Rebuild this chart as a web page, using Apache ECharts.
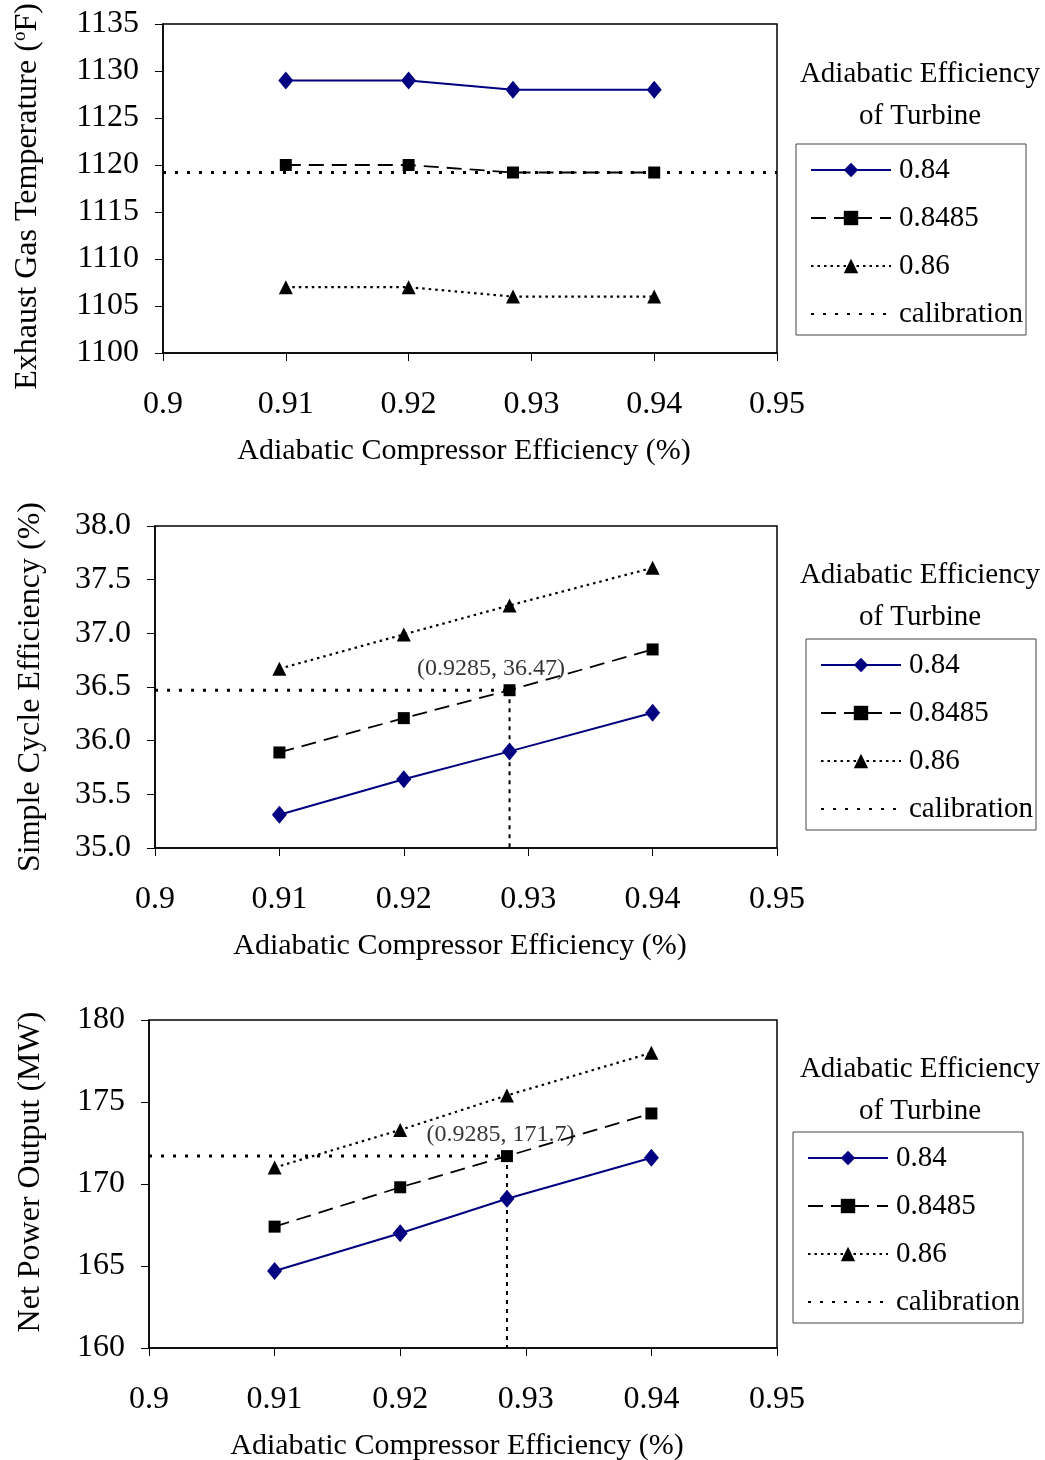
<!DOCTYPE html>
<html>
<head>
<meta charset="utf-8">
<script src="https://cdn.jsdelivr.net/npm/echarts@6/dist/echarts.min.js"></script>
<style>
  html, body { margin: 0; padding: 0; background: #fff; }
  #chart { width: 1045px; height: 1460px; }
</style>
</head>
<body>
<div id="chart"></div>
<script>
// compressor efficiency (x) shared by all three panels
const compEff = [0.91, 0.92, 0.9285, 0.94]

// panel 1: exhaust gas temperature (F)
const exhaust084 = [1129, 1129, 1128, 1128]
const exhaust08485 = [1120, 1120, 1119.2, 1119.2]
const exhaust086 = [1107, 1107, 1106, 1106]
const exhaustCalib = 1119.2

// panel 2: simple cycle efficiency (%)
const effic084 = [35.31, 35.64, 35.90, 36.26]
const effic08485 = [35.89, 36.21, 36.47, 36.85]
const effic086 = [36.67, 36.99, 37.26, 37.61]
const efficCalib = [0.9285, 36.47]

// panel 3: net power output (MW)
const power084 = [164.7, 167.0, 169.1, 171.6]
const power08485 = [167.4, 169.8, 171.7, 174.3]
const power086 = [171.0, 173.3, 175.4, 178.0]
const powerCalib = [0.9285, 171.7]

const turbineNames = ['0.84', '0.8485', '0.86']
const legendNames = ['0.84', '0.8485', '0.86', 'calibration']

const xRange = {min: 0.9, max: 0.95, interval: 0.01}
const yRanges = [
  {min: 1100, max: 1135, interval: 5},
  {min: 35, max: 38, interval: 0.5},
  {min: 160, max: 180, interval: 5}
]
const yNames = [
  'Exhaust Gas Temperature ({sup|o}F)',
  'Simple Cycle Efficiency (%)',
  'Net Power Output (MW)'
]
const xName = 'Adiabatic Compressor Efficiency (%)'
const legendTitle = 'Adiabatic Efficiency\nof Turbine'

const FONT = '"Liberation Serif", "Times New Roman", serif'

// layout of the three panels
const panels = [
  {grid: {left: 163, top: 24, width: 614, height: 329}, yGap: 118, yPad: [0, 16, 0, 0], yDigits: 0,
    legend: {left: 796, top: 144}, titleY: 53},
  {grid: {left: 155, top: 526, width: 622, height: 322}, yGap: 108, yPad: [0, 0, 0, 0], yDigits: 1,
    legend: {left: 806, top: 639}, titleY: 554},
  {grid: {left: 149, top: 1020, width: 628, height: 328}, yGap: 102, yPad: [0, 0, 0, 24], yDigits: 0,
    legend: {left: 793, top: 1132}, titleY: 1048}
]

const seriesStyles = [
  {symbol: 'diamond', symbolSize: [15, 18], color: '#000080', lineStyle: {color: '#000080', width: 2, type: 'solid'}},
  {symbol: 'rect', symbolSize: 12, color: '#000', lineStyle: {color: '#000', width: 1.8, type: [15, 8]}},
  {symbol: 'triangle', symbolSize: [14, 14], color: '#000', lineStyle: {color: '#000', width: 2.2, type: [2.5, 4]}}
]
const calibStyle = {color: '#000', width: 3, type: [3, 9]}
const calibVertStyle = {color: '#000', width: 2, type: [4, 5]}

const panelValues = [
  [exhaust084, exhaust08485, exhaust086],
  [effic084, effic08485, effic086],
  [power084, power08485, power086]
]

const chart = echarts.init(document.getElementById('chart'))

const series = []
panelValues.forEach((vals, p) => {
  vals.forEach((v, k) => {
    const st = seriesStyles[k]
    series.push({
      name: turbineNames[k],
      type: 'line',
      xAxisIndex: p,
      yAxisIndex: p,
      symbol: st.symbol,
      symbolSize: st.symbolSize,
      itemStyle: {color: st.color},
      lineStyle: st.lineStyle,
      data: compEff.map((x, i) => [x, v[i]]),
      z: 3
    })
  })
})

// calibration, panel 1: horizontal line across the whole plot
series.push({
  name: 'calibration', type: 'line', xAxisIndex: 0, yAxisIndex: 0,
  symbol: 'none', itemStyle: {color: 'rgba(0,0,0,0)'}, lineStyle: calibStyle,
  data: [[xRange.min, exhaustCalib], [xRange.max, exhaustCalib]], z: 2
})

// calibration, panels 2 and 3: horizontal to the point, then down to the axis
const calibPoints = [efficCalib, powerCalib]
const notePos = [[-18, -21], [-6, -21]]
calibPoints.forEach((pt, j) => {
  const p = j + 1
  series.push({
    name: 'calibration', type: 'line', xAxisIndex: p, yAxisIndex: p,
    symbol: 'none', itemStyle: {color: 'rgba(0,0,0,0)'}, lineStyle: calibStyle,
    data: [[xRange.min, pt[1]], [pt[0], pt[1]]], z: 2
  })
  series.push({
    name: 'calibration', type: 'line', xAxisIndex: p, yAxisIndex: p,
    symbol: 'none', itemStyle: {color: 'rgba(0,0,0,0)'}, lineStyle: calibVertStyle,
    data: [[pt[0], pt[1]], [pt[0], yRanges[p].min]], z: 2
  })
  series.push({
    name: 'note', type: 'scatter', xAxisIndex: p, yAxisIndex: p,
    symbolSize: 1, itemStyle: {color: 'rgba(0,0,0,0)'},
    label: {
      show: true,
      position: notePos[j],
      align: 'center',
      verticalAlign: 'middle',
      formatter: '(' + pt[0] + ', ' + pt[1] + ')',
      fontFamily: FONT,
      fontSize: 24,
      color: '#000'
    },
    data: [pt], z: 4
  })
})

const option = {
  animation: false,
  backgroundColor: '#fff',
  grid: panels.map(p => Object.assign({
    show: true, borderColor: '#000', borderWidth: 1.5, containLabel: false, outerBoundsMode: 'none'
  }, p.grid)),
  xAxis: panels.map((p, i) => ({
    type: 'value',
    gridIndex: i,
    min: xRange.min, max: xRange.max, interval: xRange.interval,
    name: xName,
    nameLocation: 'middle',
    nameGap: 83,
    nameTextStyle: {fontFamily: FONT, fontSize: 30, color: '#000', padding: [0, 12, 0, 0]},
    axisLine: {show: true, lineStyle: {color: '#000', width: 1.5}},
    axisTick: {show: true, length: 8, lineStyle: {color: '#000', width: 1}},
    splitLine: {show: false},
    axisLabel: {
      margin: 36, fontFamily: FONT, fontSize: 32, color: '#000',
      formatter: v => String(+v.toFixed(2))
    }
  })),
  yAxis: panels.map((p, i) => ({
    type: 'value',
    gridIndex: i,
    min: yRanges[i].min, max: yRanges[i].max, interval: yRanges[i].interval,
    name: yNames[i],
    nameLocation: 'middle',
    nameGap: p.yGap,
    nameRotate: 90,
    nameTextStyle: {
      fontFamily: FONT, fontSize: 32, color: '#000', padding: p.yPad,
      rich: {sup: {fontFamily: FONT, fontSize: 19, color: '#000', padding: [0, 0, 15, 0]}}
    },
    axisLine: {show: true, lineStyle: {color: '#000', width: 1.5}},
    axisTick: {show: true, length: 8, lineStyle: {color: '#000', width: 1}},
    splitLine: {show: false},
    axisLabel: {
      margin: 24, fontFamily: FONT, fontSize: 32, color: '#000',
      formatter: v => v.toFixed(p.yDigits)
    }
  })),
  legend: panels.map(p => ({
    data: legendNames,
    orient: 'vertical',
    left: p.legend.left,
    top: p.legend.top,
    padding: [10, 3, 5, 14],
    itemGap: 16,
    itemWidth: 80,
    itemHeight: 18,
    borderColor: '#444',
    borderWidth: 1,
    selectedMode: false,
    textStyle: {fontFamily: FONT, fontSize: 29, color: '#000', lineHeight: 32, padding: [0, 0, 0, 3]}
  })),
  graphic: panels.map(p => ({
    type: 'text',
    x: 920,
    y: p.titleY,
    style: {
      text: legendTitle,
      align: 'center',
      verticalAlign: 'top',
      fontFamily: FONT,
      fontSize: 29,
      lineHeight: 42,
      fill: '#000'
    }
  })),
  series: series
}

chart.setOption(option)
</script>
</body>
</html>
